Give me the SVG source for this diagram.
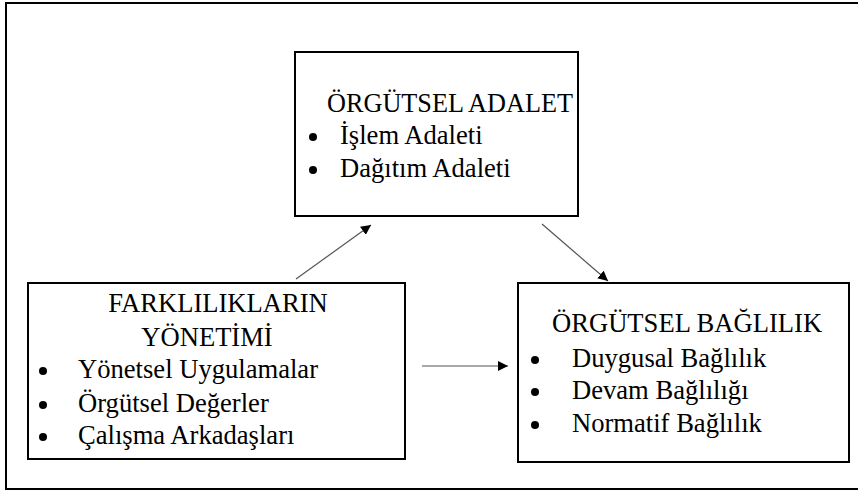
<svg xmlns="http://www.w3.org/2000/svg" width="858" height="491" viewBox="0 0 858 491">
<style>
.box{fill:#fff;stroke:#000;stroke-width:2}
.t{font-size:26.6px;fill:#000}
.c{stroke:#555;stroke-width:1.2;fill:none;marker-end:url(#ah)}
.b{fill:#000}
</style>
<defs>
<marker id="ah" viewBox="0 0 10 10" refX="10" refY="5" markerWidth="10" markerHeight="10" markerUnits="userSpaceOnUse" orient="auto">
<path d="M0,0 L10,5 L0,10 z" fill="#000"/>
</marker>
</defs>
<rect width="858" height="491" fill="#fff"/>
<path d="M862,3 H6 V489 H862" fill="none" stroke="#000" stroke-width="2"/>
<g id="connectors">
<line class="c" x1="296" y1="279" x2="371" y2="225"/>
<line class="c" x1="542" y1="224" x2="608" y2="281"/>
<line class="c" x1="422" y1="366" x2="508" y2="366"/>
</g>
<g font-family="Liberation Serif, DejaVu Serif, Times New Roman, serif">
<g id="orgutsel-adalet">
<rect class="box" x="295" y="52" width="283" height="164"/>
<text class="t" x="327" y="112" textLength="246" lengthAdjust="spacingAndGlyphs">ÖRGÜTSEL ADALET</text>
<circle class="b" cx="313" cy="137" r="4"/>
<text class="t" x="340" y="144">İşlem Adaleti</text>
<circle class="b" cx="313" cy="170" r="4"/>
<text class="t" x="340" y="177">Dağıtım Adaleti</text>
</g>
<g id="farkliliklarin-yonetimi">
<rect class="box" x="28" y="283" width="377" height="176"/>
<text class="t" x="218" y="312" text-anchor="middle">FARKLILIKLARIN</text>
<text class="t" x="207" y="346" text-anchor="middle">YÖNETİMİ</text>
<circle class="b" cx="43" cy="371" r="4"/>
<text class="t" x="78" y="378">Yönetsel Uygulamalar</text>
<circle class="b" cx="43" cy="405" r="4"/>
<text class="t" x="78" y="412">Örgütsel Değerler</text>
<circle class="b" cx="43" cy="437" r="4"/>
<text class="t" x="78" y="444">Çalışma Arkadaşları</text>
</g>
<g id="orgutsel-baglilik">
<rect class="box" x="518" y="283" width="331" height="179"/>
<text class="t" x="552" y="332">ÖRGÜTSEL BAĞLILIK</text>
<circle class="b" cx="535" cy="360" r="4"/>
<text class="t" x="572" y="367">Duygusal Bağlılık</text>
<circle class="b" cx="535" cy="392" r="4"/>
<text class="t" x="572" y="399">Devam Bağlılığı</text>
<circle class="b" cx="535" cy="425" r="4"/>
<text class="t" x="572" y="432">Normatif Bağlılık</text>
</g>
</g>
</svg>
